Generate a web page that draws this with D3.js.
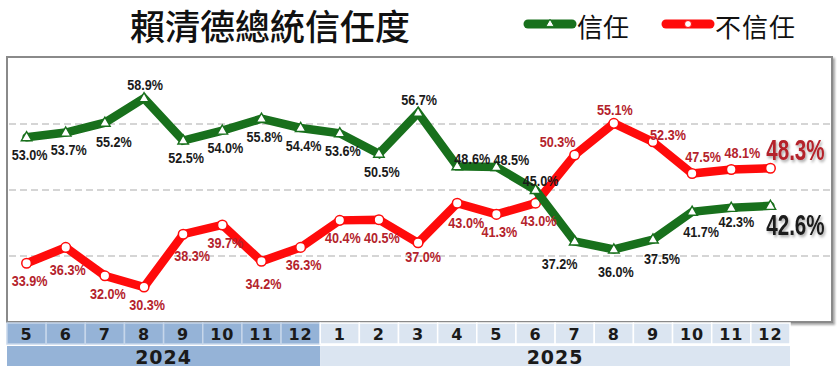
<!DOCTYPE html>
<html>
<head>
<meta charset="utf-8">
<script src="https://cdn.jsdelivr.net/npm/d3@7"></script>
<style>
	html, body { margin:0; padding:0; background:#ffffff; }
	svg { display:block; }
</style>
</head>
<body>
<div id="chart"></div>
<script>
	// -----------------------------------------------------------------
	// Data
	var months = ['5','6','7','8','9','10','11','12','1','2','3','4','5','6','7','8','9','10','11','12'];
	var years = ['2024','2024','2024','2024','2024','2024','2024','2024'
		,'2025','2025','2025','2025','2025','2025','2025','2025','2025','2025','2025','2025'];
	var trustValues = [53.0,53.7,55.2,58.9,52.5,54.0,55.8,54.4,53.6,50.5
		,56.7,48.6,48.5,45.0,37.2,36.0,37.5,41.7,42.3,42.6];
	var distrustValues = [33.9,36.3,32.0,30.3,38.3,39.7,34.2,36.3,40.4,40.5
		,37.0,43.0,41.3,43.0,50.3,55.1,52.3,47.5,48.1,48.3];
	var gridValues = [35,45,55];

	// where each value label sits around its point
	var trustLabelSide = ['b','b','br','t','b','b','b','b','b','b'
		,'t','tr','tr','ts','bl','bb','br','br','bs','end'];
	var distrustLabelSide = ['b','bb','b','b','bbr','b','bb','b','b','b'
		,'bs','br','b','b','tl','t','tr','tt','tt','end'];

	var titleText = '賴清德總統信任度';
	var trustName = '信任';
	var distrustName = '不信任';

	// -----------------------------------------------------------------
	var width = 840;
	var height = 374;
	var frame = { left: 7, top: 57, right: 832, bottom: 322 };
	var tableRight = 790;

	var GREEN = '#18701c';
	var RED = '#ff0b0b';
	var RED_TEXT = '#b4232c';

	var labelOffsets = {
		b: [3,18]
		,bb: [2,23]
		,bs: [5,14]
		,t: [1,-13]
		,ts: [5,-9]
		,tr: [15,-7]
		,tt: [11,-16]
		,br: [9,20]
		,bbr: [9,22]
		,bl: [-15,23]
		,tl: [-17,-13]
	};

	var svg = d3.select('#chart')
		.append('svg')
		.attr('width',width)
		.attr('height',height);

	var defs = svg.append('defs');
	defs.append('filter')
		.attr('id','bigShadow')
		.attr('x','-20%').attr('y','-20%')
		.attr('width','150%').attr('height','150%')
		.append('feDropShadow')
		.attr('dx',2).attr('dy',2)
		.attr('stdDeviation',1.5)
		.attr('flood-color','#000000')
		.attr('flood-opacity',0.35);
	defs.append('filter')
		.attr('id','frameShadow')
		.attr('x','-5%').attr('y','-5%')
		.attr('width','110%').attr('height','115%')
		.append('feDropShadow')
		.attr('dx',2).attr('dy',2)
		.attr('stdDeviation',1.2)
		.attr('flood-color','#000000')
		.attr('flood-opacity',0.35);

	var x = d3.scaleBand()
		.domain(d3.range(months.length))
		.range([frame.left,tableRight])
		.padding(0);

	var y = d3.scaleLinear()
		.domain([25,65])
		.range([frame.bottom,frame.top+1]);

	function cx(i){ return x(i) + x.bandwidth()/2; };

	// Title
	svg.append('text')
		.attr('x',270)
		.attr('y',24)
		.attr('text-anchor','middle')
		.attr('dominant-baseline','central')
		.attr('font-family','"Noto Sans CJK TC", "Noto Sans CJK SC", sans-serif')
		.attr('font-weight',500)
		.attr('font-size',35)
		.attr('fill','#111111')
		.text(titleText);

	// Legend
	function legendItem(x0, name, color, marker, letterSpace){
		var g = svg.append('g').attr('class','legend');
		g.append('line')
			.attr('x1',x0).attr('x2',x0+44)
			.attr('y1',24).attr('y2',24)
			.attr('stroke',color)
			.attr('stroke-width',9)
			.attr('stroke-linecap','round');
		if( marker === 'tri' ){
			g.append('path')
				.attr('d',d3.symbol().type(d3.symbolTriangle).size(30)())
				.attr('transform','translate('+(x0+22)+',24)')
				.attr('fill','#ffffff')
				.attr('stroke',color)
				.attr('stroke-width',1);
		} else {
			g.append('circle')
				.attr('cx',x0+22).attr('cy',24).attr('r',3.5)
				.attr('fill','#ffffff')
				.attr('stroke',color)
				.attr('stroke-width',1);
		};
		g.append('text')
			.attr('x',x0+49)
			.attr('y',25)
			.attr('dominant-baseline','central')
			.attr('font-family','"Noto Sans CJK TC", sans-serif')
			.attr('font-weight',400)
			.attr('font-size',26)
			.attr('letter-spacing',letterSpace)
			.attr('fill','#111111')
			.text(name);
	};
	legendItem(528, trustName, GREEN, 'tri', 0);
	legendItem(666, distrustName, RED, 'circle', 1);

	// Plot frame
	svg.append('rect')
		.attr('x',frame.left)
		.attr('y',frame.top)
		.attr('width',frame.right-frame.left)
		.attr('height',frame.bottom-frame.top)
		.attr('fill','#ffffff')
		.attr('stroke','#8a8a8a')
		.attr('stroke-width',2)
		.attr('filter','url(#frameShadow)');

	// Grid lines
	svg.append('g')
		.attr('class','grid')
		.selectAll('line')
		.data(gridValues)
		.enter()
		.append('line')
		.attr('x1',frame.left+2)
		.attr('x2',frame.right-2)
		.attr('y1',function(d){ return y(d); })
		.attr('y2',function(d){ return y(d); })
		.attr('stroke','#c8c8c8')
		.attr('stroke-width',1.5)
		.attr('stroke-dasharray','7,4');

	// Category table below the plot
	var table = svg.append('g').attr('class','table');
	var monthTop = 323, monthH = 21, yearTop = 346, yearH = 20;

	function cellFill(i){
		return years[i] === '2024' ? '#95b3d7' : '#dbe5f1';
	};

	table.selectAll('rect.month')
		.data(months)
		.enter()
		.append('rect')
		.attr('class','month')
		.attr('x',function(d,i){ return x(i); })
		.attr('y',monthTop)
		.attr('width',x.bandwidth())
		.attr('height',monthH)
		.attr('fill',function(d,i){ return cellFill(i); })
		.attr('stroke',function(d,i){ return years[i] === '2024' ? '#c6d6ea' : '#ffffff'; })
		.attr('stroke-width',1.5);

	table.selectAll('text.month')
		.data(months)
		.enter()
		.append('text')
		.attr('class','month')
		.attr('x',function(d,i){ return cx(i); })
		.attr('y',monthTop+monthH/2+1)
		.attr('text-anchor','middle')
		.attr('dominant-baseline','central')
		.attr('font-family','"DejaVu Sans", sans-serif')
		.attr('font-weight','bold')
		.attr('font-size',16)
		.attr('letter-spacing',1)
		.attr('fill','#1a1a1a')
		.text(function(d){ return d; });

	var yearGroups = d3.groups(d3.range(years.length), function(i){ return years[i]; });
	yearGroups.forEach(function(grp){
		var idx = grp[1];
		var x0 = x(idx[0]);
		var x1 = x(idx[idx.length-1]) + x.bandwidth();
		table.append('rect')
			.attr('x',x0)
			.attr('y',yearTop)
			.attr('width',x1-x0)
			.attr('height',yearH)
			.attr('fill',cellFill(idx[0]));
		table.append('text')
			.attr('x',(x0+x1)/2)
			.attr('y',yearTop+yearH/2+1)
			.attr('text-anchor','middle')
			.attr('dominant-baseline','central')
			.attr('font-family','"DejaVu Sans", sans-serif')
			.attr('font-weight','bold')
			.attr('font-size',19)
			.attr('letter-spacing',1)
			.attr('fill','#1a1a1a')
			.text(grp[0]);
	});

	// -----------------------------------------------------------------
	// Series
	var line = d3.line()
		.x(function(d,i){ return cx(i); })
		.y(function(d){ return y(d); });

	function drawSeries(values, color, marker){
		var g = svg.append('g').attr('class','series');
		g.append('path')
			.datum(values)
			.attr('d',line)
			.attr('fill','none')
			.attr('stroke',color)
			.attr('stroke-width',8.5)
			.attr('stroke-linejoin','miter')
			.attr('stroke-linecap','round');

		if( marker === 'tri' ){
			g.selectAll('path.marker')
				.data(values)
				.enter()
				.append('path')
				.attr('class','marker')
				.attr('d',d3.symbol().type(d3.symbolTriangle).size(48)())
				.attr('transform',function(d,i){ return 'translate('+cx(i)+','+(y(d)+0.5)+')'; })
				.attr('fill','#ffffff')
				.attr('stroke',color)
				.attr('stroke-width',1.4);
		} else {
			g.selectAll('circle.marker')
				.data(values)
				.enter()
				.append('circle')
				.attr('class','marker')
				.attr('cx',function(d,i){ return cx(i); })
				.attr('cy',function(d){ return y(d); })
				.attr('r',4.8)
				.attr('fill','#ffffff')
				.attr('stroke',color)
				.attr('stroke-width',1.5);
		};
	};

	// condensed label: a scaled group so the box measures what is drawn
	function condensedText(parent, px, py, str, size, squeeze, color){
		var g = parent.append('g')
			.attr('transform','translate('+px+','+py+') scale('+squeeze+',1)');
		return g.append('text')
			.attr('x',0)
			.attr('y',0)
			.attr('text-anchor','middle')
			.attr('dominant-baseline','central')
			.attr('font-family','"Liberation Sans", Arial, sans-serif')
			.attr('font-weight','bold')
			.attr('font-size',size)
			.attr('fill',color)
			.text(str);
	};

	function drawLabels(values, sides, textColor, bigDy){
		var g = svg.append('g').attr('class','labels');
		values.forEach(function(v,i){
			var side = sides[i];
			var label = v.toFixed(1)+'%';
			if( side === 'end' ){
				condensedText(g, cx(i)+25, y(v)+bigDy, label, 29, 0.71, textColor)
					.attr('filter','url(#bigShadow)');
				return;
			};
			var off = labelOffsets[side];
			condensedText(g, cx(i)+off[0], y(v)+off[1], label, 14.5, 0.87, textColor);
		});
	};

	drawSeries(distrustValues, RED, 'circle');
	drawSeries(trustValues, GREEN, 'tri');

	drawLabels(distrustValues, distrustLabelSide, RED_TEXT, -19);
	drawLabels(trustValues, trustLabelSide, '#1a1a1a', 19);
</script>
</body>
</html>
